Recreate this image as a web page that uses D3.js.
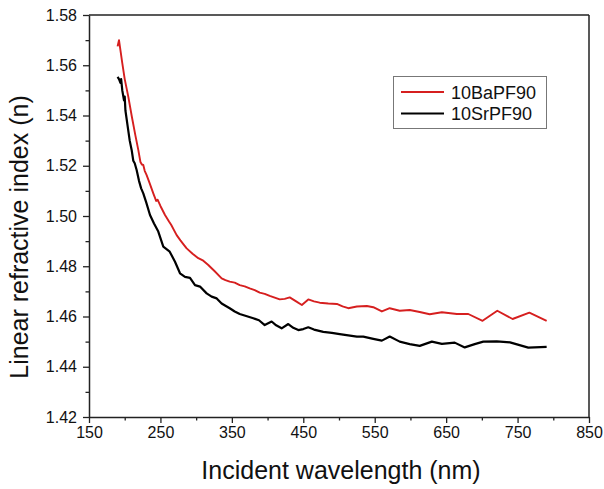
<!DOCTYPE html>
<html>
<head>
<meta charset="utf-8">
<script src="https://cdn.jsdelivr.net/npm/d3@7"></script>
<style>
  html, body { margin: 0; padding: 0; background: #fff; }
  svg { display: block; }
  text { font-family: "Liberation Sans", Arial, sans-serif; fill: #111; }
</style>
</head>
<body>
<svg id="chart" width="604" height="489"></svg>
<script>
// ---- data ----
const seriesNames = ["10BaPF90", "10SrPF90"];
const seriesColors = ["#d61f1f", "#000000"];

const baWavelength = [190,192,194,196.6,200,205,210,215,219,222,224,226,228,230.7,235,240,244,246,250,256.4,262,265,272.7,278,282,286.7,295,303,310,317,326,335.7,341,347,354,361,368,375,382,389,396,403,410,417,424,431,440,448,457,465,473,485,497,505,513,525,539,548,560,571,585,599,613,627,644,665,681,701,721.6,743,766.5,790.7];
const baIndex = [1.5675,1.5700,1.5660,1.5608,1.5545,1.5475,1.5395,1.5320,1.5263,1.5215,1.5205,1.5203,1.5180,1.5163,1.5130,1.5090,1.5060,1.5065,1.5040,1.5004,1.4978,1.4965,1.4924,1.4903,1.4888,1.4871,1.4850,1.4832,1.4822,1.4805,1.4780,1.4752,1.4745,1.4739,1.4735,1.4725,1.4720,1.4712,1.4705,1.4695,1.4690,1.4682,1.4675,1.4668,1.4670,1.4676,1.4660,1.4646,1.4668,1.4660,1.4655,1.4652,1.4650,1.4640,1.4633,1.4640,1.4642,1.4637,1.4620,1.4633,1.4623,1.4626,1.4618,1.4609,1.4617,1.4610,1.4610,1.4583,1.4623,1.4590,1.4615,1.4583];

const srWavelength = [190,192,194,195,196.6,199,200,201,204,207,209.7,212,214,216.7,220,223,226,230,235.4,241,247,254,263,270.4,277.4,284.4,291.4,298.4,305.4,314.7,321.7,328.8,335.7,341,347,354,361,370,380,388,396,405.7,412,419.7,429,436,443,450,457,465,478,490,501,513,525,534,548,560,571,585,599,613,630,644,662,676,690,702,720.8,739.4,765,790.7];
const srIndex = [1.5554,1.5545,1.5530,1.5545,1.5500,1.5460,1.5475,1.5420,1.5360,1.5300,1.5263,1.5220,1.5210,1.5183,1.5140,1.5110,1.5090,1.5055,1.5004,1.4970,1.4938,1.4878,1.4858,1.4818,1.4772,1.4758,1.4754,1.4725,1.4719,1.4692,1.4679,1.4672,1.4652,1.4643,1.4633,1.4620,1.4610,1.4602,1.4593,1.4585,1.4566,1.4580,1.4565,1.4553,1.4570,1.4555,1.4546,1.4550,1.4557,1.4548,1.4539,1.4535,1.4530,1.4525,1.4520,1.4520,1.4511,1.4504,1.4520,1.4500,1.4490,1.4483,1.4500,1.4491,1.4496,1.4477,1.4490,1.4500,1.4501,1.4497,1.4476,1.4479];

const xTicks = [150,250,350,450,550,650,750,850];
const xMinorTicks = [200,300,400,500,600,700,800];
const yTicks = [1.42,1.44,1.46,1.48,1.50,1.52,1.54,1.56,1.58];
const yMinorTicks = [1.43,1.45,1.47,1.49,1.51,1.53,1.55,1.57];

const xTitle = "Incident wavelength (nm)";
const yTitle = "Linear refractive index (n)";

// ---- layout ----
const svg = d3.select("#chart");
const L = 89, R = 589, T = 15, B = 417;
const x = d3.scaleLinear().domain([150, 850]).range([L, R]);
const y = d3.scaleLinear().domain([1.42, 1.58]).range([B, T]);

const axisColor = "#222";

// frame (top & right)
svg.append("line").attr("x1", L).attr("x2", R).attr("y1", T).attr("y2", T)
  .attr("stroke", axisColor).attr("stroke-width", 1.5);
svg.append("line").attr("x1", R).attr("x2", R).attr("y1", T).attr("y2", B)
  .attr("stroke", axisColor).attr("stroke-width", 1.5);

// bottom axis
const xAxis = d3.axisBottom(x).tickValues(xTicks).tickFormat(d3.format("d"))
  .tickSizeInner(6).tickSizeOuter(0).tickPadding(4);
const gx = svg.append("g").attr("transform", `translate(0,${B})`).call(xAxis);
const xMinor = d3.axisBottom(x).tickValues(xMinorTicks).tickFormat("")
  .tickSizeInner(3.5).tickSizeOuter(0);
const gxm = svg.append("g").attr("transform", `translate(0,${B})`).call(xMinor);
gxm.select(".domain").remove();

// left axis
const yAxis = d3.axisLeft(y).tickValues(yTicks).tickFormat(d3.format(".2f"))
  .tickSizeInner(6).tickSizeOuter(0).tickPadding(6);
const gy = svg.append("g").attr("transform", `translate(${L},0)`).call(yAxis);
const yMinor = d3.axisLeft(y).tickValues(yMinorTicks).tickFormat("")
  .tickSizeInner(3.5).tickSizeOuter(0);
const gym = svg.append("g").attr("transform", `translate(${L},0)`).call(yMinor);
gym.select(".domain").remove();

[gx, gxm, gy, gym].forEach(g => {
  g.selectAll(".domain").attr("stroke", axisColor).attr("stroke-width", 1.5);
  g.selectAll(".tick line").attr("stroke", axisColor).attr("stroke-width", 1.3);
  g.selectAll(".tick text").attr("font-size", 16)
    .attr("font-family", '"Liberation Sans", Arial, sans-serif').attr("fill", "#111");
});

// titles
svg.append("text").attr("x", (L + R) / 2 + 2).attr("y", 479)
  .attr("text-anchor", "middle").attr("font-size", 25).text(xTitle);
svg.append("text").attr("transform", `translate(28,237) rotate(-90)`)
  .attr("text-anchor", "middle").attr("font-size", 25).text(yTitle);

// lines
const line = d3.line().x(d => x(d[0])).y(d => y(d[1]));
const series = [
  { name: seriesNames[0], color: seriesColors[0], pts: d3.zip(baWavelength, baIndex), w: 1.9 },
  { name: seriesNames[1], color: seriesColors[1], pts: d3.zip(srWavelength, srIndex), w: 2.2 }
];
series.forEach(s => {
  svg.append("path").datum(s.pts).attr("d", line)
    .attr("fill", "none").attr("stroke", s.color).attr("stroke-width", s.w)
    .attr("stroke-linejoin", "round");
});

// legend
const lg = svg.append("g");
lg.append("rect").attr("x", 393.5).attr("y", 76.5).attr("width", 153).attr("height", 52)
  .attr("fill", "#fff").attr("stroke", "#777").attr("stroke-width", 1);
series.forEach((s, i) => {
  const yy = 92 + i * 21.5;
  lg.append("line").attr("x1", 401).attr("x2", 444).attr("y1", yy).attr("y2", yy)
    .attr("stroke", s.color).attr("stroke-width", s.w);
  lg.append("text").attr("x", 451).attr("y", yy + 6.5).attr("font-size", 18).text(s.name);
});
</script>
</body>
</html>
